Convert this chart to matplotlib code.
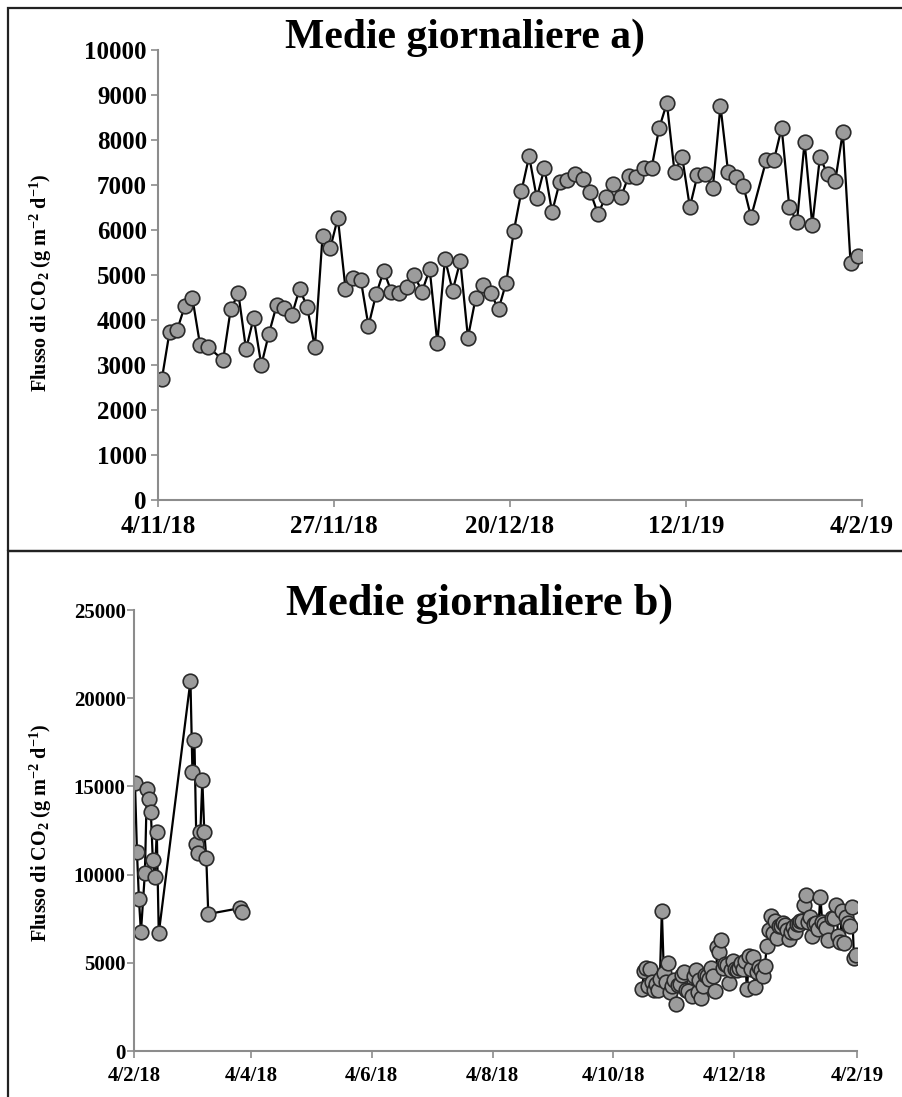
import matplotlib
matplotlib.use("Agg")
import matplotlib.pyplot as plt
from matplotlib.patches import Rectangle
import pandas as pd

plt.rcParams['font.family'] = ['Liberation Serif', 'DejaVu Serif']
plt.rcParams['font.weight'] = 'bold'
plt.rcParams['mathtext.fontset'] = 'custom'
plt.rcParams['mathtext.rm'] = 'Liberation Serif:bold'
plt.rcParams['mathtext.bf'] = 'Liberation Serif:bold'
plt.rcParams['mathtext.it'] = 'Liberation Serif:bold'

# Daily means, 4 Nov 2018 - 3 Feb 2019 (None = no data that day)
winter_start = "2018-11-04"
winter_flux = [
    2690, 3730, 3780, 4310, 4480, 3440, 3410, None, 3110, 4240,
    4590, 3350, 4050, 3000, 3700, 4330, 4270, 4110, 4700, 4280,
    3390, 5870, 5590, 6270, 4700, 4930, 4890, 3870, 4570, 5090,
    4630, 4610, 4730, 4990, 4630, 5130, 3500, 5360, 4650, 5310,
    3610, 4480, 4780, 4590, 4240, 4830, 5980, 6870, 7640, 6710,
    7380, 6400, 7070, 7110, 7240, 7130, 6840, 6360, 6730, 7020,
    6730, 7200, 7180, 7380, 7380, 8270, 8820, 7290, 7620, 6510,
    7220, 7240, 6930, 8760, 7290, 7180, 6980, 6290, None, 7560,
    7560, 8270, 6510, 6180, 7960, 6110, 7620, 7240, 7090, 8180,
    5270, 5420,
]

# Early 2018 campaign (February - March)
spring_dates = [
    "2018-02-04", "2018-02-05", "2018-02-06", "2018-02-07", "2018-02-09",
    "2018-02-10", "2018-02-11", "2018-02-12", "2018-02-13", "2018-02-14",
    "2018-02-15", "2018-02-16",
    "2018-03-04", "2018-03-05", "2018-03-06", "2018-03-07", "2018-03-08",
    "2018-03-09", "2018-03-10", "2018-03-11", "2018-03-12", "2018-03-13",
    "2018-03-29", "2018-03-30",
]
spring_flux = [
    15180, 11260, 8600, 6730, 10110,
    14850, 14270, 13570, 10830, 9880,
    12430, 6670,
    20990, 15800, 17630, 11720, 11210,
    12400, 15360, 12400, 10920, 7770,
    8100, 7900,
]

# October 2018, before the winter series
october_start = "2018-10-18"
october_flux = [3500, 4550, 4700, 3700, 4650, 3900, 3450, 3800, 3450, 4100,
                7950, 4450, 3900, 5000, 3350, 3700, 4000]

top_ticks = ["2018-11-04", "2018-11-27", "2018-12-20", "2019-01-12", "2019-02-04"]
top_tick_labels = ["4/11/18", "27/11/18", "20/12/18", "12/1/19", "4/2/19"]
bottom_ticks = ["2018-02-04", "2018-04-04", "2018-06-04", "2018-08-04",
                "2018-10-04", "2018-12-04", "2019-02-04"]
bottom_tick_labels = ["4/2/18", "4/4/18", "4/6/18", "4/8/18", "4/10/18",
                      "4/12/18", "4/2/19"]

ylabel = r"Flusso di CO$_2$ (g m$^{-2}$ d$^{-1}$)"

winter = pd.Series(winter_flux, index=pd.date_range(winter_start, periods=len(winter_flux)),
                   dtype=float).dropna()
october = pd.Series(october_flux, index=pd.date_range(october_start, periods=len(october_flux)))
spring = pd.Series(spring_flux, index=pd.to_datetime(spring_dates))
autumn = pd.concat([october, winter])

half_day = pd.Timedelta(hours=12)

fig = plt.figure(figsize=(9.03, 10.97), dpi=100)

grey = "#8c8c8c"


def style_axis(ax, size):
    for side in ["top", "right"]:
        ax.spines[side].set_visible(False)
    for side in ["left", "bottom"]:
        ax.spines[side].set_color(grey)
        ax.spines[side].set_linewidth(1.5)
    ax.tick_params(direction="out", length=5, width=1.2, color=grey,
                   labelsize=size, pad=5)
    for lab in ax.get_xticklabels() + ax.get_yticklabels():
        lab.set_fontweight("bold")


def plot_series(ax, s):
    ax.plot(s.index + half_day, s.values, "-", color="black", lw=1.6,
            marker="o", ms=10.5, mfc="#9c9c9c", mec="#2a2a2a", mew=1.2)


# panel a)
ax1 = fig.add_axes([0.175, 0.5442, 0.7796, 0.4102])
plot_series(ax1, winter)
ax1.set_xlim(pd.Timestamp(top_ticks[0]), pd.Timestamp(top_ticks[-1]))
ax1.set_ylim(0, 10000)
ax1.set_yticks(range(0, 10001, 1000))
ax1.set_xticks(pd.to_datetime(top_ticks))
ax1.set_xticklabels(top_tick_labels)
style_axis(ax1, 18)
ax1.tick_params(axis="x", pad=6)
ax1.tick_params(axis="y", pad=3)

# panel b): the two campaigns are drawn as separate lines
ax2 = fig.add_axes([0.1484, 0.0419, 0.8006, 0.402])
plot_series(ax2, spring)
plot_series(ax2, autumn)
ax2.set_xlim(pd.Timestamp(bottom_ticks[0]), pd.Timestamp(bottom_ticks[-1]))
ax2.set_ylim(0, 25000)
ax2.set_yticks(range(0, 25001, 5000))
ax2.set_xticks(pd.to_datetime(bottom_ticks))
ax2.set_xticklabels(bottom_tick_labels)
style_axis(ax2, 15)
ax2.tick_params(axis="x", pad=6)
ax2.tick_params(axis="y", pad=1)

fig.text(0.515, 0.966, "Medie giornaliere a)", ha="center", va="center",
         fontsize=30, fontweight="bold")
fig.text(0.531, 0.45, "Medie giornaliere b)", ha="center", va="center",
         fontsize=32, fontweight="bold")
fig.text(0.045, 0.742, ylabel, rotation=90, ha="center", va="center",
         fontsize=14.5, fontweight="bold")
fig.text(0.045, 0.241, ylabel, rotation=90, ha="center", va="center",
         fontsize=14.5, fontweight="bold")

# panel frames
fig.add_artist(Rectangle((8 / 903, 1 - 551 / 1097), 1.0, 543 / 1097,
                         transform=fig.transFigure, fill=False,
                         edgecolor="#222222", lw=1.6))
fig.add_artist(Rectangle((8 / 903, -0.01), 1.0, 1 - 551 / 1097 + 0.01,
                         transform=fig.transFigure, fill=False,
                         edgecolor="#222222", lw=1.6))

fig.savefig("out.png", dpi=100)
